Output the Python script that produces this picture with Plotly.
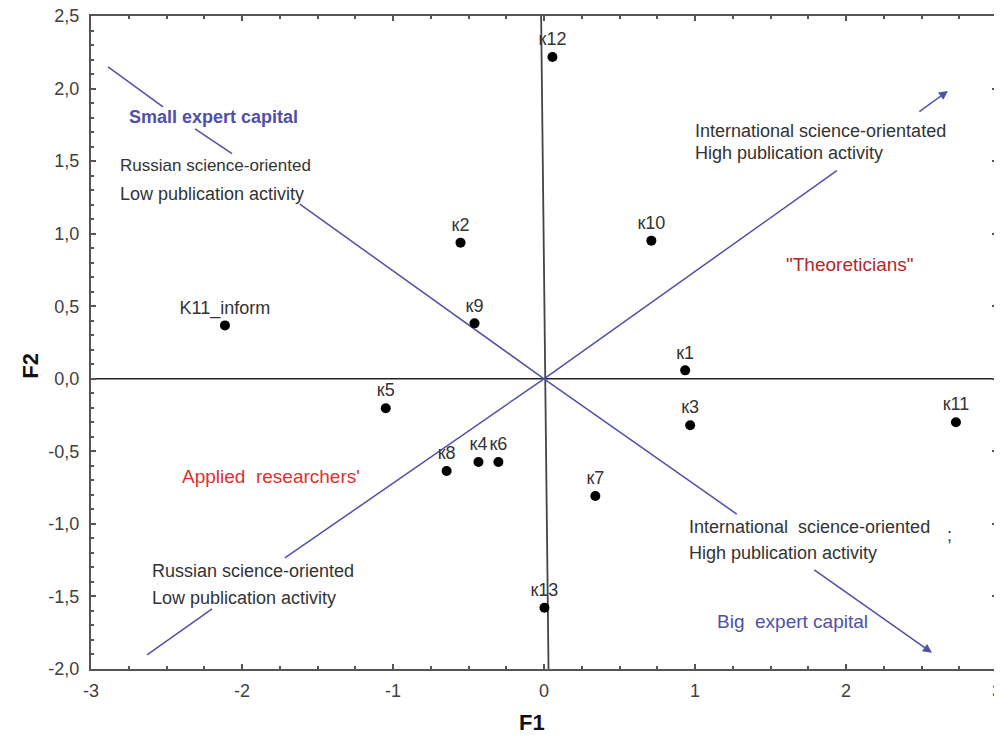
import plotly.graph_objects as go

# ---- data ----
labels = ["к12", "к2", "к10", "K11_inform", "к9", "к1", "к5", "к3", "к11",
          "к8", "к4", "к6", "к7", "к13"]
f1 = [0.056, -0.553, 0.711, -2.113, -0.460, 0.935, -1.048, 0.968, 2.728,
      -0.645, -0.434, -0.302, 0.340, 0.003]
f2 = [2.218, 0.938, 0.952, 0.368, 0.382, 0.058, -0.203, -0.320, -0.299,
      -0.636, -0.574, -0.574, -0.808, -1.578]

x_ticks = [-3, -2, -1, 0, 1, 2, 3]
x_ticktext = ["-3", "-2", "-1", "0", "1", "2", "3"]
y_ticks = [2.5, 2.0, 1.5, 1.0, 0.5, 0.0, -0.5, -1.0, -1.5, -2.0]
y_ticktext = ["2,5", "2,0", "1,5", "1,0", "0,5", "0,0", "-0,5", "-1,0", "-1,5", "-2,0"]

# guide lines (drawn segments, broken where text sits)
diag_a_x = [-2.887, -2.523, None, -2.311, -2.066, None, -1.617, 0.0, 1.276, None]
diag_a_y = [2.149, 1.874, None, 1.722, 1.551, None, 1.203, 0.0, -0.932, None]
diag_b_x = [-2.629, -2.198, None, -1.716, 0.0, 1.939, None]
diag_b_y = [-1.902, -1.585, None, -1.235, 0.0, 1.434, None]
arrow_a = (1.780, -1.310, 2.569, -1.888)  # tail x, tail y, head x, head y
arrow_b = (2.476, 1.833, 2.675, 1.984)
vaxis_x = [-0.019, 0.030]
vaxis_y = [2.5, -2.0]
haxis_x = [-3, 3]
haxis_y = [0, 0]

BLUE = "#5050a8"
FONT = "Liberation Sans, Arial, sans-serif"

fig = go.Figure()

fig.add_trace(go.Scatter(x=haxis_x, y=haxis_y, mode="lines",
                         line=dict(color="#222222", width=1.6), hoverinfo="skip"))
fig.add_trace(go.Scatter(x=vaxis_x, y=vaxis_y, mode="lines",
                         line=dict(color="#444444", width=1.8), hoverinfo="skip"))
fig.add_trace(go.Scatter(x=diag_a_x, y=diag_a_y, mode="lines",
                         line=dict(color=BLUE, width=1.5), hoverinfo="skip"))
fig.add_trace(go.Scatter(x=diag_b_x, y=diag_b_y, mode="lines",
                         line=dict(color=BLUE, width=1.5), hoverinfo="skip"))

fig.add_trace(go.Scatter(x=f1, y=f2, mode="markers+text", text=labels,
                         textposition="top center",
                         textfont=dict(family=FONT, size=18, color="#333333"),
                         marker=dict(color="black", size=10)))

annotations = []
for (tx, ty, hx, hy) in (arrow_a, arrow_b):
    annotations.append(dict(x=hx, y=hy, ax=tx, ay=ty, xref="x", yref="y",
                            axref="x", ayref="y", showarrow=True, arrowhead=2,
                            arrowsize=1.2, arrowwidth=1.5, arrowcolor=BLUE, text=""))

texts = [
    ("Small expert capital", -2.761, 1.805, BLUE, 18, True),
    ("Russian science-oriented", -2.821, 1.468, "#333333", 17, False),
    ("Low publication activity", -2.821, 1.276, "#333333", 18, False),
    ("International science-orientated", 0.989, 1.709, "#333333", 18, False),
    ("High publication activity", 0.989, 1.558, "#333333", 18, False),
    ("\"Theoreticians\"", 1.591, 0.788, "#b02828", 19, False),
    ("Applied  researchers'", -2.411, -0.671, "#e03030", 19, False),
    ("International  science-oriented", 0.949, -1.021, "#333333", 18, False),
    (";", 2.655, -1.076, "#333333", 18, False),
    ("High publication activity", 0.949, -1.200, "#333333", 18, False),
    ("Big  expert capital", 1.134, -1.675, BLUE, 19, False),
    ("Russian science-oriented", -2.609, -1.324, "#333333", 18, False),
    ("Low publication activity", -2.609, -1.510, "#333333", 18, False),
]
for t, x, y, c, s, b in texts:
    annotations.append(dict(x=x, y=y, xref="x", yref="y", text=f"<b>{t}</b>" if b else t,
                            showarrow=False, xanchor="left", yanchor="middle",
                            font=dict(family=FONT, size=s, color=c)))

annotations.append(dict(x=0.487, y=-0.082, xref="paper", yref="paper", text="<b>F1</b>",
                        showarrow=False, xanchor="center", yanchor="middle",
                        font=dict(family=FONT, size=22, color="#111111")))
annotations.append(dict(x=-0.067, y=0.465, xref="paper", yref="paper", text="<b>F2</b>",
                        showarrow=False, xanchor="center", yanchor="middle", textangle=-90,
                        font=dict(family=FONT, size=22, color="#111111")))

axis_common = dict(showgrid=False, zeroline=False, showline=True, linecolor="#555555",
                   linewidth=2, mirror="ticks", ticks="inside", ticklen=5, tickwidth=1.5,
                   tickcolor="#555555", ticklabeloverflow="allow", automargin=False,
                   tickfont=dict(family=FONT, size=18, color="#404040"))

fig.update_layout(
    width=994, height=729,
    margin=dict(l=83, r=5, t=8, b=68),
    paper_bgcolor="white", plot_bgcolor="white",
    showlegend=False,
    annotations=annotations,
    xaxis=dict(range=[-3, 3], tickvals=x_ticks, ticktext=x_ticktext,
               ticklabelstandoff=4,
               minor=dict(dtick=0.25, tick0=0, ticks="inside", ticklen=3, tickcolor="#555555"),
               **axis_common),
    yaxis=dict(range=[-2.0, 2.5], tickvals=y_ticks, ticktext=y_ticktext,
               ticklabelstandoff=6,
               minor=dict(dtick=0.1, tick0=0, ticks="inside", ticklen=3, tickcolor="#555555"),
               **axis_common),
)

fig.write_html("out.html")
